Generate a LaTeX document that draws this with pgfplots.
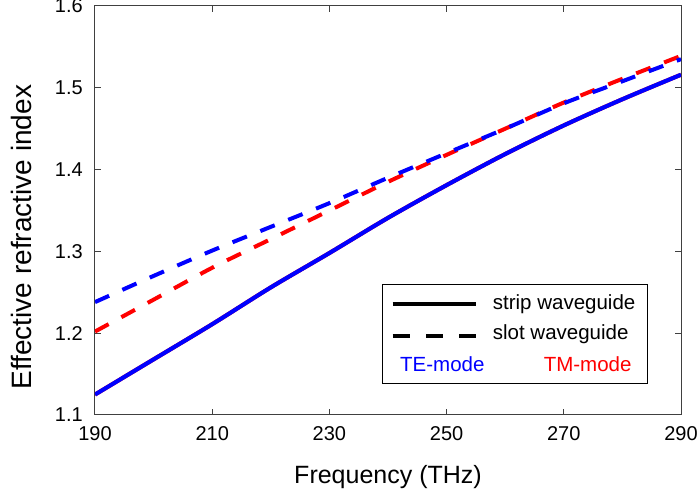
\documentclass[border=0pt]{standalone}
\usepackage{pgfplots}
\pgfplotsset{compat=1.18}
\usepackage{fontspec}
\setmainfont{Liberation Sans}

\definecolor{teblue}{RGB}{0,0,255}
\definecolor{tmred}{RGB}{255,0,0}

\begin{document}
\begin{tikzpicture}[x=1pt,y=1pt]
\path[use as bounding box] (-95,-79) rectangle (603,415);
\begin{axis}[
  at={(0,0)}, anchor=south west,
  scale only axis,
  width=586pt, height=409pt,
  xmin=190, xmax=290,
  ymin=1.1, ymax=1.6,
  xtick={190,210,230,250,270,290},
  ytick={1.1,1.2,1.3,1.4,1.5,1.6},
  minor tick num=0,
  tick align=inside,
  major tick length=6pt,
  axis line style={draw=black!75, line width=1pt},
  every tick/.style={black!75, line width=1pt},
  /pgf/number format/assume math mode=true,
  yticklabel={\pgfmathprintnumber[fixed,fixed zerofill,precision=1]{\tick}},
  xticklabel style={font=\fontsize{20}{24}\selectfont, anchor=center, inner sep=0pt, yshift=-19pt},
  yticklabel style={font=\fontsize{20}{24}\selectfont, anchor=east, inner sep=0pt, xshift=-12pt},
  xlabel={Frequency (THz)},
  ylabel={Effective refractive index},
  xlabel style={font=\fontsize{25}{30}\selectfont, at={(axis description cs:0.5,-0.1516)}, anchor=center},
  ylabel style={font=\fontsize{28}{33}\selectfont, at={(axis description cs:-0.1246,0.435)}, anchor=center},
  every axis plot/.append style={smooth, tension=0.5},
  clip=true,
]
% TM strip waveguide (lies under the TE curve)
\addplot[tmred, line width=4.1pt] coordinates {
(190,1.125) (200,1.168) (210,1.211) (220,1.256) (230,1.298) (240,1.341)
(250,1.381) (260,1.419) (270,1.454) (280,1.486) (290,1.516)};
% TE strip waveguide
\addplot[teblue, line width=4.1pt] coordinates {
(190,1.125) (200,1.168) (210,1.211) (220,1.256) (230,1.298) (240,1.341)
(250,1.381) (260,1.419) (270,1.454) (280,1.486) (290,1.516)};
% TM slot waveguide
\addplot[tmred, line width=4pt, dash pattern=on 15.5pt off 14.5pt] coordinates {
(190,1.202) (200,1.241) (210,1.280) (220,1.315) (230,1.350) (240,1.385)
(250,1.418) (260,1.450) (270,1.482) (280,1.511) (290,1.539)};
% TE slot waveguide
\addplot[teblue, line width=4pt, dash pattern=on 15.5pt off 14.5pt] coordinates {
(190,1.238) (200,1.270) (210,1.301) (220,1.330) (230,1.359) (240,1.390)
(250,1.420) (260,1.450) (270,1.481) (280,1.508) (290,1.535)};
\end{axis}
% legend box
\draw[black, line width=0.8pt, fill=white] (287.7,31.7) rectangle (552.3,130.7);
\draw[black, line width=3.8pt] (297.7,110.7) -- (381,110.7);
\draw[black, line width=3.8pt, dash pattern=on 17.3pt off 16pt] (297.7,79.3) -- (381,79.3);
\node[anchor=base west, inner sep=0pt, font=\fontsize{20.5}{24}\selectfont] at (397.7,105) {strip waveguide};
\node[anchor=base west, inner sep=0pt, font=\fontsize{20.5}{24}\selectfont] at (397.7,75) {slot waveguide};
\node[anchor=base west, inner sep=0pt, font=\fontsize{20.5}{24}\selectfont, text=teblue] at (305,43.3) {TE-mode};
\node[anchor=base east, inner sep=0pt, font=\fontsize{20.5}{24}\selectfont, text=tmred] at (536.7,43.3) {TM-mode};
\end{tikzpicture}
\end{document}
